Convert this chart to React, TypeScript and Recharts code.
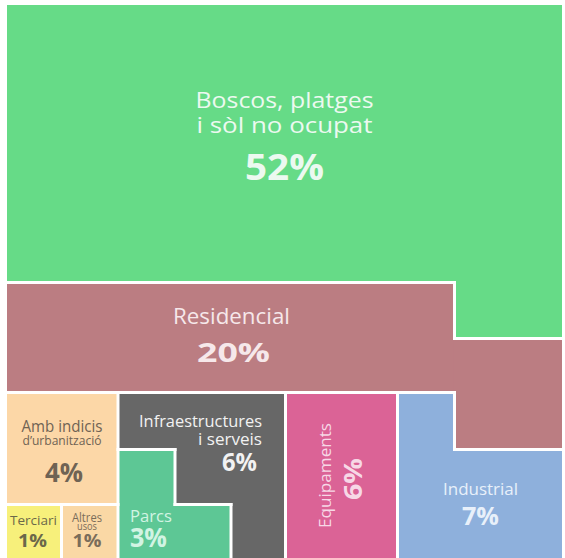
import React from 'react';
import { ComposedChart, XAxis, YAxis, ReferenceArea, ReferenceLine, Scatter } from 'recharts';

// ---- data ----
const categories = [
  'Boscos, platges i sòl no ocupat',
  'Residencial',
  "Amb indicis d'urbanització",
  'Terciari',
  'Altres usos',
  'Infraestructures i serveis',
  'Parcs',
  'Equipaments',
  'Industrial',
];
const values = [52, 20, 4, 1, 1, 6, 3, 6, 7];
const labelLines = [
  ['Boscos, platges', 'i sòl no ocupat'],
  ['Residencial'],
  ['Amb indicis', 'd\u2019urbanització'],
  ['Terciari'],
  ['Altres', 'usos'],
  ['Infraestructures', 'i serveis'],
  ['Parcs'],
  ['Equipaments'],
  ['Industrial'],
];
const percentLabels = values.map((v) => `${v}%`);

// ---- styles ----
const fills = ['#66DB87', '#BB7D82', '#FCD7A7', '#F7F07B', '#FAD8A5', '#676767', '#5DC795', '#DB6396', '#8EB0DC'];
const textColors = ['#ECF9F0', '#F6E8EA', '#6F6354', '#6B684A', '#7A6D5A', '#F2F2F2', '#D2F4E3', '#F7D8E6', '#E8F0FA'];
const FONT = '"Open Sans", "Noto Sans", sans-serif';

// ---- stepped treemap layout (chart units) ----
const W = 555;
const H = 553;
const xa = 54.5, xb = 111, xc = 168, xd = 224, xe = 278.5, xf = 390.5, xg = 447.5, xR = W;
const h1 = 277.5, h2 = 333.5, h3 = 387.5, h4 = 444.5, h5 = 499.5, hB = H;

// rectangles [x1, x2, y1, y2] for each category (same order as categories);
// second pieces overlap the first by 1 unit so no seam shows inside a shape
const pieces: number[][][] = [
  [[0, xR, 0, h1], [xg, xR, h1 - 1, h2]],
  [[0, xg, h1, h3], [xg - 1, xR, h2, h4]],
  [[0, xb, h3, h5]],
  [[0, xa, h5, hB]],
  [[xa, xb, h5, hB]],
  [[xb, xe, h3, hB]],
  [[xb, xc, h4, hB], [xc - 1, xd, h5, hB]],
  [[xe, xf, h3, hB]],
  [[xf, xg, h3, hB], [xg - 1, xR, h4, hB]],
];

// white separators [x1, y1, x2, y2]
const separators = [
  [0, h1, xg, h1], [xg, h1, xg, h2], [xg, h2, xR, h2],
  [0, h3, xg, h3], [xg, h3, xg, h4], [xg, h4, xR, h4],
  [xa, h5, xa, hB], [0, h5, xb, h5], [xb, h3, xb, hB],
  [xb, h4, xc, h4], [xc, h4, xc, h5], [xc, h5, xd, h5], [xd, h5, xd, hB],
  [xe, h3, xe, hB], [xf, h3, xf, hB],
];

// label anchors (chart units) and typographic specs
type LineSpec = { dx: number; dy: number; size: number; bold?: boolean; len: number };
type LabelSpec = { at: [number, number]; anchor: 'start' | 'middle' | 'end'; rotate?: boolean; lines: LineSpec[] };
const labelSpecs: LabelSpec[] = [
  { at: [277.5, 103], anchor: 'middle', lines: [
    { dx: 0, dy: 0, size: 22, len: 178 }, { dx: 0, dy: 25, size: 22, len: 176 }, { dx: 0, dy: 72, size: 35, bold: true, len: 79 }] },
  { at: [224.5, 319], anchor: 'middle', lines: [
    { dx: 0, dy: 0, size: 22, len: 117 }, { dx: 2, dy: 38, size: 27, bold: true, len: 73 }] },
  { at: [55, 427], anchor: 'middle', lines: [
    { dx: 0, dy: 0, size: 16, len: 81 }, { dx: 0, dy: 13, size: 13, len: 79 }, { dx: 2, dy: 50, size: 26, bold: true, len: 38 }] },
  { at: [26.5, 520], anchor: 'middle', lines: [
    { dx: 0, dy: 0, size: 12, len: 47 }, { dx: -1, dy: 22, size: 17, bold: true, len: 29 }] },
  { at: [80, 517], anchor: 'middle', lines: [
    { dx: 0, dy: 0, size: 12, len: 30 }, { dx: 0, dy: 8, size: 11, len: 20 }, { dx: 0, dy: 25, size: 17, bold: true, len: 29 }] },
  { at: [255, 422], anchor: 'end', lines: [
    { dx: 0, dy: 0, size: 16, len: 123 }, { dx: 0, dy: 18, size: 16, len: 64 }, { dx: -5, dy: 44, size: 25, bold: true, len: 35 }] },
  { at: [123, 517], anchor: 'start', lines: [
    { dx: 0, dy: 0, size: 16, len: 42 }, { dx: 0, dy: 25, size: 26, bold: true, len: 37 }] },
  { at: [324, 470.5], anchor: 'middle', rotate: true, lines: [
    { dx: 0, dy: 0, size: 16, len: 105 }, { dx: 31, dy: 3.5, size: 25, bold: true, len: 42 }] },
  { at: [473.5, 490], anchor: 'middle', lines: [
    { dx: 0, dy: 0, size: 16, len: 75 }, { dx: 0, dy: 30, size: 25, bold: true, len: 37 }] },
];

const labelData = categories.map((name, i) => ({
  name,
  value: values[i],
  x: labelSpecs[i].at[0],
  y: labelSpecs[i].at[1],
  idx: i,
}));

const LabelShape = (props: any) => {
  const { cx, cy, payload } = props;
  if (cx == null || cy == null || !payload) return null;
  const i = payload.idx as number;
  const spec = labelSpecs[i];
  const texts = [...labelLines[i], percentLabels[i]];
  return (
    <g>
      {spec.lines.map((ln, k) => {
        const content = texts[k];
        if (spec.rotate) {
          const tx = cx + ln.dx;
          const ty = cy + ln.dy;
          return (
            <text
              key={k}
              x={tx}
              y={ty}
              transform={`rotate(-90, ${tx}, ${ty})`}
              textAnchor="middle"
              fontFamily={FONT}
              fontSize={ln.size}
              fontWeight={ln.bold ? 700 : 400}
              fill={textColors[i]}
              textLength={ln.len}
              lengthAdjust="spacingAndGlyphs"
            >
              {content}
            </text>
          );
        }
        return (
          <text
            key={k}
            x={cx + ln.dx}
            y={cy + ln.dy}
            textAnchor={spec.anchor}
            fontFamily={FONT}
            fontSize={ln.size}
            fontWeight={ln.bold ? 700 : 400}
            fill={textColors[i]}
            textLength={ln.len}
            lengthAdjust="spacingAndGlyphs"
          >
            {content}
          </text>
        );
      })}
    </g>
  );
};

export default function App() {
  return (
    <div style={{ position: 'absolute', left: 0, top: 0, width: 565, height: 558, background: '#ffffff' }}>
      <ComposedChart width={565} height={558} margin={{ top: 5, right: 3, bottom: 0, left: 7 }}>
        <XAxis type="number" dataKey="x" domain={[0, W]} hide allowDataOverflow />
        <YAxis type="number" dataKey="y" domain={[0, H]} hide reversed allowDataOverflow />
        {pieces.map((rects, i) =>
          rects.map((r, j) => (
            <ReferenceArea
              key={`a-${i}-${j}`}
              x1={r[0]}
              x2={r[1]}
              y1={r[2]}
              y2={r[3]}
              fill={fills[i]}
              fillOpacity={1}
              stroke="none"
              ifOverflow="extendDomain"
              zIndex={1}
            />
          ))
        )}
        {separators.map((s, i) => (
          <ReferenceLine
            key={`s-${i}`}
            segment={[{ x: s[0], y: s[1] }, { x: s[2], y: s[3] }]}
            stroke="#ffffff"
            strokeWidth={3}
            strokeLinecap="square"
            ifOverflow="extendDomain"
            zIndex={2}
          />
        ))}
        <Scatter
          data={labelData}
          dataKey="y"
          isAnimationActive={false}
          shape={LabelShape}
          zIndex={3}
        />
      </ComposedChart>
    </div>
  );
}
